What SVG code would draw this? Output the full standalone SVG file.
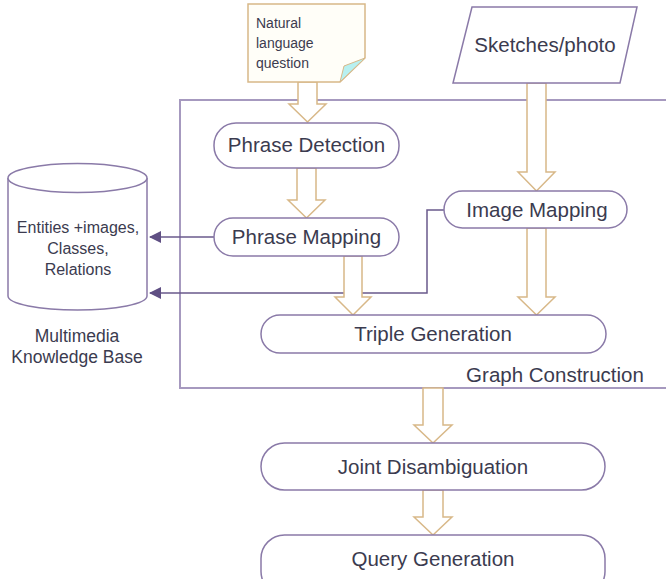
<svg xmlns="http://www.w3.org/2000/svg" width="666" height="579" viewBox="0 0 666 579">
<defs>
<style>
.node{fill:#fff;stroke:#8a7aa8;stroke-width:1.5}
.t{font-family:"Liberation Sans",Arial,sans-serif;fill:#3b3b4f;text-anchor:middle}
.big{font-size:20.5px}
.sm{font-size:16px}
.nl{font-size:14px;text-anchor:start}
.blk{fill:#fff;stroke:#d8b888;stroke-width:1.5;stroke-linejoin:miter}
.con{fill:none;stroke:#6a5a8c;stroke-width:1.5}
</style>
<marker id="ah" markerWidth="12" markerHeight="12" refX="11" refY="6" orient="auto" markerUnits="userSpaceOnUse">
<path d="M0,0 L12,6 L0,12 Z" fill="#5f4f83"/>
</marker>
</defs>
<rect width="666" height="579" fill="#fff"/>

<g id="graph-construction">
<path d="M666,100 L180,100 L180,388 L666,388" fill="none" stroke="#a699bf" stroke-width="2"/>
<text class="t big" x="555" y="382">Graph Construction</text>
</g>

<g id="connectors">
<path class="con" d="M214,237 L150,237" marker-end="url(#ah)"/>
<path class="con" d="M444,210 L427,210 L427,293 L150,293" marker-end="url(#ah)"/>
<path class="blk" d="M298,82 L298,104 L289,104 L307.5,122 L326,104 L317,104 L317,82 Z"/>
<path class="blk" d="M527,83 L527,172 L518,172 L536.5,191 L555,172 L546,172 L546,83 Z"/>
<path class="blk" d="M297,168 L297,200 L288,200 L306.5,218 L325,200 L316,200 L316,168 Z"/>
<path class="blk" d="M344,256 L344,297 L335,297 L353,315 L371,297 L362,297 L362,256 Z"/>
<path class="blk" d="M527,228 L527,297 L518,297 L536.5,315 L555,297 L546,297 L546,228 Z"/>
<path class="blk" d="M423,388 L423,425 L414,425 L433,443 L452,425 L443,425 L443,388 Z"/>
<path class="blk" d="M423,490 L423,517 L414,517 L433,535 L452,517 L443,517 L443,490 Z"/>
</g>

<g id="natural-language-question">
<path d="M248,4 L365,4 L365,58 L340,82 L248,82 Z" fill="#fffef8" stroke="#d8b888" stroke-width="1.5"/>
<path d="M340,82 L344,66 L365,58 Z" fill="#b8f0f0" stroke="#d8b888" stroke-width="1"/>
<text class="t nl" x="256" y="28">Natural</text>
<text class="t nl" x="256" y="48">language</text>
<text class="t nl" x="256" y="68">question</text>
</g>

<g id="sketches-photo">
<path class="node" d="M472,7 L637,7 L620,83 L453,83 Z"/>
<text class="t big" x="545" y="52">Sketches/photo</text>
</g>

<g id="phrase-detection">
<rect class="node" x="214" y="123" width="185" height="45" rx="22"/>
<text class="t big" x="306.5" y="152">Phrase Detection</text>
</g>

<g id="phrase-mapping">
<rect class="node" x="214" y="218" width="185" height="38" rx="19"/>
<text class="t big" x="306.5" y="244">Phrase Mapping</text>
</g>

<g id="image-mapping">
<rect class="node" x="444" y="191" width="183" height="37" rx="18.5"/>
<text class="t big" x="537" y="217">Image Mapping</text>
</g>

<g id="triple-generation">
<rect class="node" x="261" y="315" width="345" height="38" rx="19"/>
<text class="t big" x="433" y="341">Triple Generation</text>
</g>

<g id="joint-disambiguation">
<rect class="node" x="261" y="443" width="344" height="47" rx="23.5"/>
<text class="t big" x="433" y="474">Joint Disambiguation</text>
</g>

<g id="query-generation">
<rect class="node" x="261" y="535" width="344" height="60" rx="23.5"/>
<text class="t big" x="433" y="566">Query Generation</text>
</g>

<g id="knowledge-base">
<path class="node" d="M8,178 L8,296 A69.5,14 0 0 0 147,296 L147,178"/>
<ellipse class="node" cx="77.5" cy="178" rx="69.5" ry="14.5"/>
<text class="t sm" x="78" y="233">Entities +images,</text>
<text class="t sm" x="78" y="254">Classes,</text>
<text class="t sm" x="78" y="275">Relations</text>
<text class="t" style="font-size:17.5px" x="77" y="342">Multimedia</text>
<text class="t" style="font-size:17.5px" x="77" y="363">Knowledge Base</text>
</g>
</svg>
